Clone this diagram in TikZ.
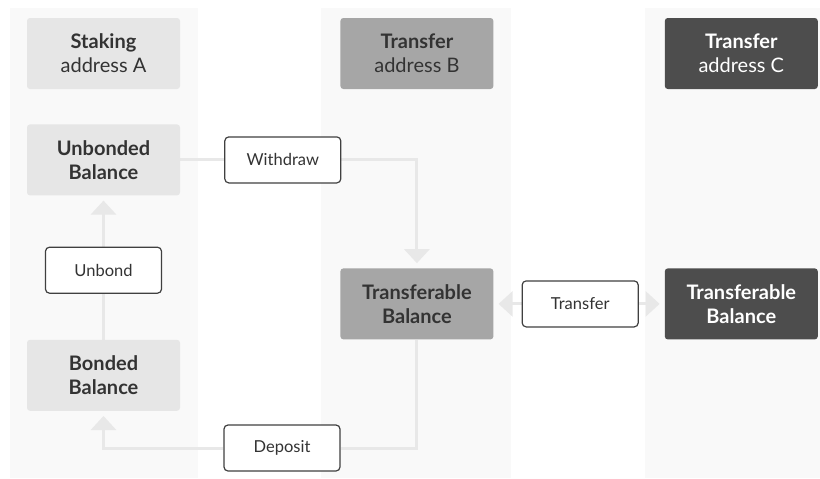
\documentclass[tikz,border=0pt]{standalone}
\usepackage{fontspec}
\setmainfont{Lato}
\usetikzlibrary{arrows.meta, positioning, backgrounds}
\definecolor{mcol}{HTML}{F9F9F9}
\definecolor{mlight}{HTML}{E6E6E6}
\definecolor{mmid}{HTML}{A6A6A6}
\definecolor{mdark}{HTML}{4D4D4D}
\definecolor{mtext}{HTML}{333333}
\definecolor{mflow}{HTML}{E8E8E8}
\definecolor{medge}{HTML}{404040}
\tikzstyle{account} = [rectangle, rounded corners=3pt, minimum width=153pt, minimum height=71pt, text=mtext, align=center, font=\fontsize{20}{24}\selectfont]
\tikzstyle{stakebox} = [account, fill=mlight]
\tikzstyle{sendbox} = [account, fill=mmid]
\tikzstyle{recvbox} = [account, fill=mdark, text=white]
\tikzstyle{action} = [rectangle, rounded corners=4pt, minimum width=116pt, minimum height=46pt, draw=medge, line width=1.2pt, fill=white, text=mtext, font=\fontsize{16.5}{18}\selectfont]
\tikzstyle{flow} = [line width=3pt, mflow, -{Triangle[width=25pt, length=14pt]}, shorten >=5pt]

\begin{document}
\begin{tikzpicture}[x=1pt, y=-1pt]
\useasboundingbox (0,0) rectangle (820,479);
%Accounts
\node (staking) [stakebox] at (103.5,53.5) {\textbf{Staking}\\address A};
\node (unbonded) [stakebox, below = 35pt of staking] {\textbf{Unbonded}\\\textbf{Balance}};
\node (bonded) [stakebox, below = 144pt of unbonded] {\textbf{Bonded}\\\textbf{Balance}};
\node (addrB) [sendbox, right = 160pt of staking] {\textbf{Transfer}\\address B};
\node (transB) [sendbox, below = 179pt of addrB] {\textbf{Transferable}\\\textbf{Balance}};
\node (addrC) [recvbox, right = 171pt of addrB] {\textbf{Transfer}\\address C};
\node (transC) [recvbox, below = 179pt of addrC] {\textbf{Transferable}\\\textbf{Balance}};
%Actions
\node (withdraw) [action, right = 44pt of unbonded] {Withdraw};
\node (unbond) [action, below = 51pt of unbonded] {Unbond};
\node (deposit) [action] at (282,448) {Deposit};
\node (transfer) [action, right = 28pt of transB] {Transfer};
\begin{pgfonlayer}{background}
\fill [mcol] (10,8) rectangle (198,478);
\fill [mcol] (321,8) rectangle (511,478);
\fill [mcol] (645,8) rectangle (820,478);
\draw [flow] (bonded.north) -- (unbonded.south);
\draw [flow] (unbonded.east) -| (transB.north);
\draw [flow] (transB.south) |- (deposit) -| (bonded.south);
\draw [flow, {Triangle[width=25pt, length=14pt]}-{Triangle[width=25pt, length=14pt]}, shorten <=5pt] (transB.east) -- (transC.west);
\end{pgfonlayer}
\end{tikzpicture}
\end{document}
